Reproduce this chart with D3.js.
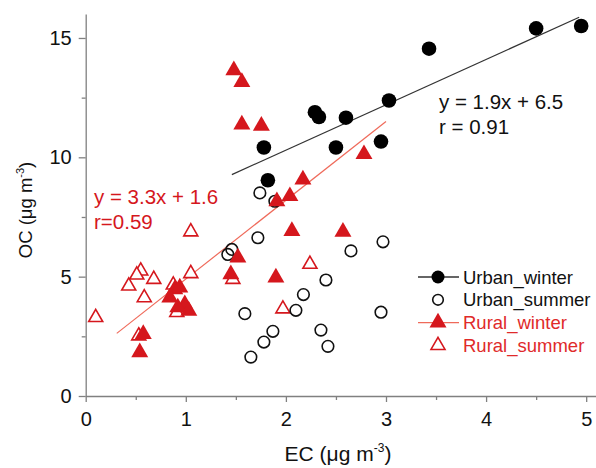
<!DOCTYPE html>
<html>
<head>
<meta charset="utf-8">
<script src="https://cdn.jsdelivr.net/npm/d3@7"></script>
<style>
  body { margin: 0; background: #fff; }
  text { font-family: Arial, "Liberation Sans", sans-serif; }
</style>
</head>
<body>
<div id="chart"></div>
<script>
// data
const urbanWinterEC = [1.78, 1.82, 2.29, 2.33, 2.60, 2.50, 2.95, 3.03, 3.43, 4.50, 4.95]
const urbanWinterOC = [10.41, 9.04, 11.89, 11.69, 11.66, 10.41, 10.66, 12.38, 14.55, 15.40, 15.50]

const urbanSummerEC = [1.74, 1.89, 1.72, 1.46, 1.42, 2.97, 2.65, 2.40, 2.175, 2.10, 1.59, 2.95, 1.87, 1.78, 1.65, 2.35, 2.42]
const urbanSummerOC = [8.51, 8.16, 6.63, 6.14, 5.93, 6.46, 6.08, 4.86, 4.25, 3.59, 3.45, 3.51, 2.71, 2.26, 1.63, 2.76, 2.08]

const ruralWinterEC = [1.48, 1.56, 1.56, 1.755, 2.78, 2.17, 2.04, 1.91, 2.06, 2.57, 1.52, 1.45, 1.90,
                       0.89, 0.94, 0.84, 0.99, 1.03, 0.92, 0.575, 0.54]
const ruralWinterOC = [13.64, 13.15, 11.37, 11.32, 10.13, 9.07, 8.37, 8.16, 6.91, 6.88, 5.80, 5.10, 4.96,
                       4.47, 4.54, 4.12, 3.84, 3.57, 3.71, 2.59, 1.83]

const ruralSummerEC = [1.05, 2.24, 0.55, 0.51, 0.68, 1.05, 0.43, 0.585, 0.875, 0.91, 0.10, 1.47, 1.97, 0.53]
const ruralSummerOC = [6.88, 5.52, 5.24, 5.07, 4.89, 5.13, 4.61, 4.12, 4.65, 3.50, 3.29, 4.89, 3.65, 2.52]

const xTicks = [0, 1, 2, 3, 4, 5]
const xMinor = [0.5, 1.5, 2.5, 3.5, 4.5]
const yTicks = [0, 5, 10, 15]
const yMinor = [2.5, 7.5, 12.5]

const urbanFit = { slope: 1.9, icept: 6.5, from: 1.46, to: 4.93 }
const ruralFit = { slope: 3.3, icept: 1.6, from: 0.31, to: 3.0 }

const legendNames = ["Urban_winter", "Urban_summer", "Rural_winter", "Rural_summer"]

const red = "#d5171d"
const redLine = "#ef6a5a"

const W = 596, H = 468

const svg = d3.select("#chart").append("svg")
    .attr("width", W)
    .attr("height", H)

const x = d3.scaleLinear().domain([0, 5.1]).range([85.7, 596.2])
const y = d3.scaleLinear().domain([0, 16]).range([396, 14.1])

// axes
const axisColor = "#808080"

function styleAxis(g) {
    g.selectAll("path, line").attr("stroke", axisColor).attr("stroke-width", 1.3)
    g.selectAll("text").attr("fill", "#111").style("font-size", "20px")
}

svg.append("g")
    .attr("transform", "translate(0," + y(0) + ")")
    .call(d3.axisBottom(x).tickValues(xTicks).tickSize(6).tickSizeOuter(0).tickPadding(10).tickFormat(d3.format("d")))
    .call(styleAxis)
svg.append("g")
    .attr("transform", "translate(0," + y(0) + ")")
    .call(d3.axisBottom(x).tickValues(xMinor).tickSize(4).tickFormat(""))
    .call(g => g.select(".domain").remove())
    .call(styleAxis)

svg.append("g")
    .attr("transform", "translate(" + x(0) + ",0)")
    .call(d3.axisLeft(y).tickValues(yTicks).tickSize(7).tickSizeOuter(0).tickPadding(7).tickFormat(d3.format("d")))
    .call(styleAxis)
svg.append("g")
    .attr("transform", "translate(" + x(0) + ",0)")
    .call(d3.axisLeft(y).tickValues(yMinor).tickSize(4).tickFormat(""))
    .call(g => g.select(".domain").remove())
    .call(styleAxis)

// axis titles
const xt = svg.append("text")
    .attr("x", 338).attr("y", 461)
    .attr("text-anchor", "middle")
    .style("font-size", "21px").attr("fill", "#111")
xt.append("tspan").text("EC (μg m")
xt.append("tspan").attr("dy", -9).style("font-size", "12px").text("-3")
xt.append("tspan").attr("dy", 9).text(")")

const yt = svg.append("text")
    .attr("transform", "translate(32,210) rotate(-90)")
    .attr("text-anchor", "middle")
    .style("font-size", "18.5px").attr("fill", "#111")
yt.append("tspan").text("OC (μg m")
yt.append("tspan").attr("dy", -8).style("font-size", "11px").text("-3")
yt.append("tspan").attr("dy", 8).text(")")

// fit lines
function fitLine(f, color) {
    svg.append("line")
        .attr("x1", x(f.from)).attr("y1", y(f.slope * f.from + f.icept))
        .attr("x2", x(f.to)).attr("y2", y(f.slope * f.to + f.icept))
        .attr("stroke", color).attr("stroke-width", 1.2)
}
fitLine(urbanFit, "#333")
fitLine(ruralFit, redLine)

// points
const triBig = d3.symbol(d3.symbolTriangle, 125)
const triSmall = d3.symbol(d3.symbolTriangle, 85)

svg.append("g").selectAll("path")
    .data(d3.zip(ruralSummerEC, ruralSummerOC))
    .join("path")
    .attr("d", triSmall)
    .attr("transform", d => "translate(" + x(d[0]) + "," + y(d[1]) + ")")
    .attr("fill", "#fff").attr("stroke", red).attr("stroke-width", 1.6)

svg.append("g").selectAll("circle")
    .data(d3.zip(urbanSummerEC, urbanSummerOC))
    .join("circle")
    .attr("cx", d => x(d[0])).attr("cy", d => y(d[1]))
    .attr("r", 5.8)
    .attr("fill", "none").attr("stroke", "#111").attr("stroke-width", 1.6)

svg.append("g").selectAll("path")
    .data(d3.zip(ruralWinterEC, ruralWinterOC))
    .join("path")
    .attr("d", triBig)
    .attr("transform", d => "translate(" + x(d[0]) + "," + y(d[1]) + ")")
    .attr("fill", red)

svg.append("g").selectAll("circle")
    .data(d3.zip(urbanWinterEC, urbanWinterOC))
    .join("circle")
    .attr("cx", d => x(d[0])).attr("cy", d => y(d[1]))
    .attr("r", 7.3)
    .attr("fill", "#000")

// equations
svg.append("text").attr("x", 439).attr("y", 109)
    .style("font-size", "20.5px").attr("fill", "#111").text("y = 1.9x + 6.5")
svg.append("text").attr("x", 439).attr("y", 134)
    .style("font-size", "20.5px").attr("fill", "#111").text("r = 0.91")
svg.append("text").attr("x", 94).attr("y", 204)
    .style("font-size", "20.5px").attr("fill", red).text("y = 3.3x + 1.6")
svg.append("text").attr("x", 94).attr("y", 229)
    .style("font-size", "20.5px").attr("fill", red).text("r=0.59")

// legend
const lx = 438, ly = 277, lstep = 22.8
const leg = svg.append("g")
legendNames.forEach((name, i) => {
    const cy = ly + i * lstep
    const isRed = i >= 2
    if (i === 0 || i === 2) {
        leg.append("line").attr("x1", lx - 20).attr("x2", lx + 21)
            .attr("y1", cy).attr("y2", cy)
            .attr("stroke", i === 0 ? "#333" : redLine).attr("stroke-width", 1.3)
    }
    if (i === 0) {
        leg.append("circle").attr("cx", lx).attr("cy", cy).attr("r", 6.5).attr("fill", "#000")
    } else if (i === 1) {
        leg.append("circle").attr("cx", lx).attr("cy", cy).attr("r", 5.3)
            .attr("fill", "none").attr("stroke", "#111").attr("stroke-width", 1.6)
    } else if (i === 2) {
        leg.append("path").attr("d", triBig).attr("transform", "translate(" + lx + "," + cy + ")").attr("fill", red)
    } else {
        leg.append("path").attr("d", triSmall).attr("transform", "translate(" + lx + "," + cy + ")")
            .attr("fill", "#fff").attr("stroke", red).attr("stroke-width", 1.6)
    }
    leg.append("text").attr("x", 463).attr("y", cy + 6.5)
        .style("font-size", "18.5px").attr("fill", isRed ? "#e02a2a" : "#111")
        .text(name)
})
</script>
</body>
</html>
